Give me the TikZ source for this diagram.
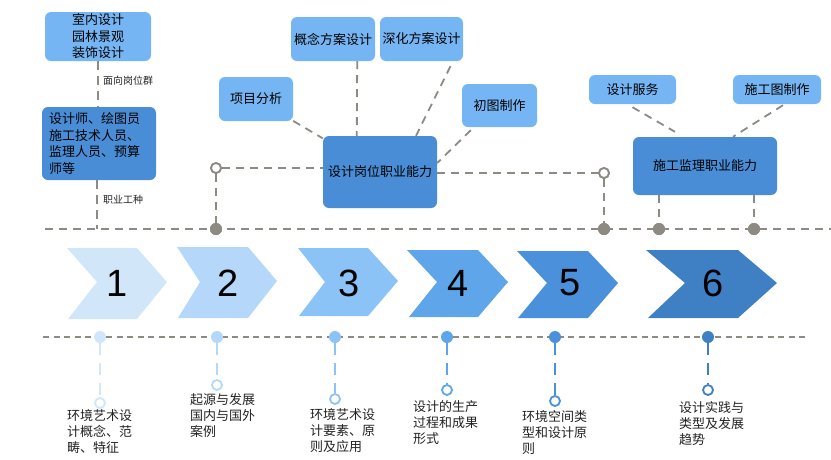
\documentclass[tikz,border=0pt]{standalone}
\usepackage{fontspec}
\setmainfont{Liberation Sans}
\newfontfamily\cjk{Noto Sans CJK SC}
\usetikzlibrary{calc}
\definecolor{lightbox}{HTML}{76B5F3}
\definecolor{darkbox}{HTML}{488DD6}
\definecolor{lgray}{HTML}{8C8A82}
\definecolor{cA}{HTML}{D2E6FA}
\definecolor{cB}{HTML}{B5D8FA}
\definecolor{cC}{HTML}{8CC3F6}
\definecolor{cD}{HTML}{5FA5E9}
\definecolor{cE}{HTML}{4A90DA}
\definecolor{cF}{HTML}{3F80C4}
\definecolor{txt}{HTML}{222222}
\begin{document}
\begin{tikzpicture}[x=1pt,y=-1pt,
  boxbase/.style={rounded corners=6pt, inner sep=0pt, text=black, font=\cjk\fontsize{13}{16.5}\selectfont},
  lbox/.style={boxbase, fill=lightbox, align=center},
  dbox/.style={boxbase, fill=darkbox, align=center},
  gdash/.style={draw=lgray, line width=1.8pt, dash pattern=on 8pt off 6pt},
  gthin/.style={draw=lgray, line width=1.5pt, dash pattern=on 9pt off 6pt},
  gdot/.style={circle, fill=lgray, minimum size=12pt, inner sep=0pt},
  gring/.style={circle, draw=lgray, fill=white, line width=1.8pt, minimum size=10pt, inner sep=0pt},
  cdot/.style={circle, fill=#1, minimum size=12pt, inner sep=0pt},
  cring/.style={circle, draw=#1, fill=white, line width=1.8pt, minimum size=10pt, inner sep=0pt},
  cdash/.style={draw=#1, line width=1.6pt, dash pattern=on 12pt off 8pt},
  smalllbl/.style={anchor=west, inner sep=0pt, font=\cjk\fontsize{10}{12}\selectfont, text=txt},
  steplbl/.style={anchor=north west, inner sep=0pt, align=left, font=\cjk\fontsize{13}{16}\selectfont, text=txt},
  numlbl/.style={inner sep=0pt, font=\fontsize{38}{38}\selectfont, text=black}
]
\useasboundingbox (0,0) rectangle (831,459);

% ---------- left column ----------
\node[lbox, minimum width=106pt, minimum height=49pt] (b1) at (98,36.5) {室内设计\\园林景观\\装饰设计};
\node[dbox, minimum width=114pt, minimum height=73pt, align=left] (b2) at (99,143.5)
  {\parbox{100pt}{\cjk\fontsize{13}{16.7}\selectfont 设计师、绘图员\\施工技术人员、\\监理人员、预算\\师等}};
\coordinate (b2end) at (97,229);
\draw[gthin] (b1.south) -- (b1.south |- b2.north);
\draw[gthin] (b2end |- b2.south) -- (b2end);
\node[smalllbl] (l1) at (103,81) {面向岗位群};
\node[smalllbl] (l2) at (103,200) {职业工种};

% ---------- design competency cluster ----------
\node[dbox, minimum width=114pt, minimum height=72pt] (d1) at (380,172) {设计岗位职业能力};
\node[lbox, minimum width=74pt, minimum height=44pt] (p1) at (256,99) {项目分析};
\node[lbox, minimum width=84pt, minimum height=44pt] (p2) at (333,39) {概念方案设计};
\node[lbox, minimum width=83pt, minimum height=44pt] (p3) at (421.5,39) {深化方案设计};
\node[lbox, minimum width=75pt, minimum height=43pt] (p4) at (499.5,105.5) {初图制作};

% ---------- construction supervision cluster ----------
\node[dbox, minimum width=144pt, minimum height=58pt] (d2) at (705,166) {施工监理职业能力};
\node[lbox, minimum width=87pt, minimum height=29pt] (q1) at (632.5,89.5) {设计服务};
\node[lbox, minimum width=88pt, minimum height=29pt] (q2) at (777,89.5) {施工图制作};

% ---------- upper timeline ----------
\coordinate (L1) at (45,229);
\coordinate (L2) at (831,229);
\draw[gdash] (L1) -- (L2);

\node[gring] (oc1) at (216,168) {};
\node[gring] (oc2) at (604,173) {};

% connectors (drawn before dots so dots sit on top)
\draw[gdash] (p1) -- (d1);
\draw[gdash] ($(p2.south east)+(-18,0)$) -- ($(d1.north west)+(34,0)$);
\draw[gdash] ($(p3.south)+(29,5)$) -- ($(d1.north)+(36,0)$);
\draw[gdash] ($(p4.south west)+(9,3)$) -- ($(d1.east)+(0,-9)$);
\draw[gdash] ($(q1.south)+(0,3)$) -- ($(d2.north)+(-30,-5)$);
\draw[gdash] ($(q2.south)+(6,1)$) -- ($(d2.north)+(28,0)$);

\draw[gdash] (oc1.east) -- (d1.west |- oc1);
\draw[gdash] (d1.east |- oc2) -- (oc2.west);

\node[gdot] (t1) at (216,229) {};
\node[gdot] (t2) at (604,229) {};
\node[gdot] (t3) at (659,229) {};
\node[gdot] (t4) at (754,229) {};

\draw[gdash] (oc1.south) -- (t1);
\draw[gdash] (oc2.south) -- (t2);
\draw[gdash] (d2.south -| t3) -- (t3);
\draw[gdash] (d2.south -| t4) -- (t4);
\node[gring] at (oc1) {};
\node[gring] at (oc2) {};
\node[gdot] at (t1) {};
\node[gdot] at (t2) {};
\node[gdot] at (t3) {};
\node[gdot] at (t4) {};

% ---------- chevrons ----------
\fill[cA] (67,248) -- (137,248) -- (167,282) -- (137,319) -- (68,319) -- (97,282) -- cycle;
\fill[cB] (177,247) -- (248,247) -- (277,281) -- (248,318) -- (178,318) -- (200,282) -- cycle;
\fill[cC] (298,248) -- (368,248) -- (398,281) -- (368,316) -- (299,316) -- (325,282) -- cycle;
\fill[cD] (407,250) -- (478,250) -- (508,282) -- (478,317) -- (409,317) -- (437,282) -- cycle;
\fill[cE] (517,251) -- (588,251) -- (618,283) -- (588,318) -- (518,318) -- (547,283) -- cycle;
\fill[cF] (646,250) -- (738,250) -- (777,283) -- (738,318) -- (648,318) -- (685,283) -- cycle;
\node[numlbl] (n1) at (117,283) {1};
\node[numlbl] (n2) at (228,283) {2};
\node[numlbl] (n3) at (349,283) {3};
\node[numlbl] (n4) at (458,283) {4};
\node[numlbl] (n5) at (570,283) {5};
\node[numlbl] (n6) at (713,283) {6};

% ---------- lower timeline ----------
\coordinate (B1) at (43,337);
\coordinate (B2) at (805,337);
\draw[draw=lgray, line width=1.4pt, dash pattern=on 6pt off 4.5pt] (B1) -- (B2);

\foreach \i/\x/\y/\c in {1/100/403/cA, 2/217/385/cB, 3/335/399/cC, 4/447/390/cD, 5/555/401/cE, 6/708/390/cF}{
  \node[cdot=\c] (bd\i) at (\x,337) {};
  \node[cring=\c] (bo\i) at (\x,\y) {};
  \draw[cdash=\c] (bd\i) -- (bo\i.north);
}

\node[steplbl] (s1) at (67,409) {环境艺术设\\计概念、范\\畴、特征};
\node[steplbl] (s2) at (190,393) {起源与发展\\国内与国外\\案例};
\node[steplbl] (s3) at (310,408) {环境艺术设\\计要素、原\\则及应用};
\node[steplbl] (s4) at (413,400) {设计的生产\\过程和成果\\形式};
\node[steplbl] (s5) at (522,410) {环境空间类\\型和设计原\\则};
\node[steplbl] (s6) at (679,401) {设计实践与\\类型及发展\\趋势};
\end{tikzpicture}
\end{document}
